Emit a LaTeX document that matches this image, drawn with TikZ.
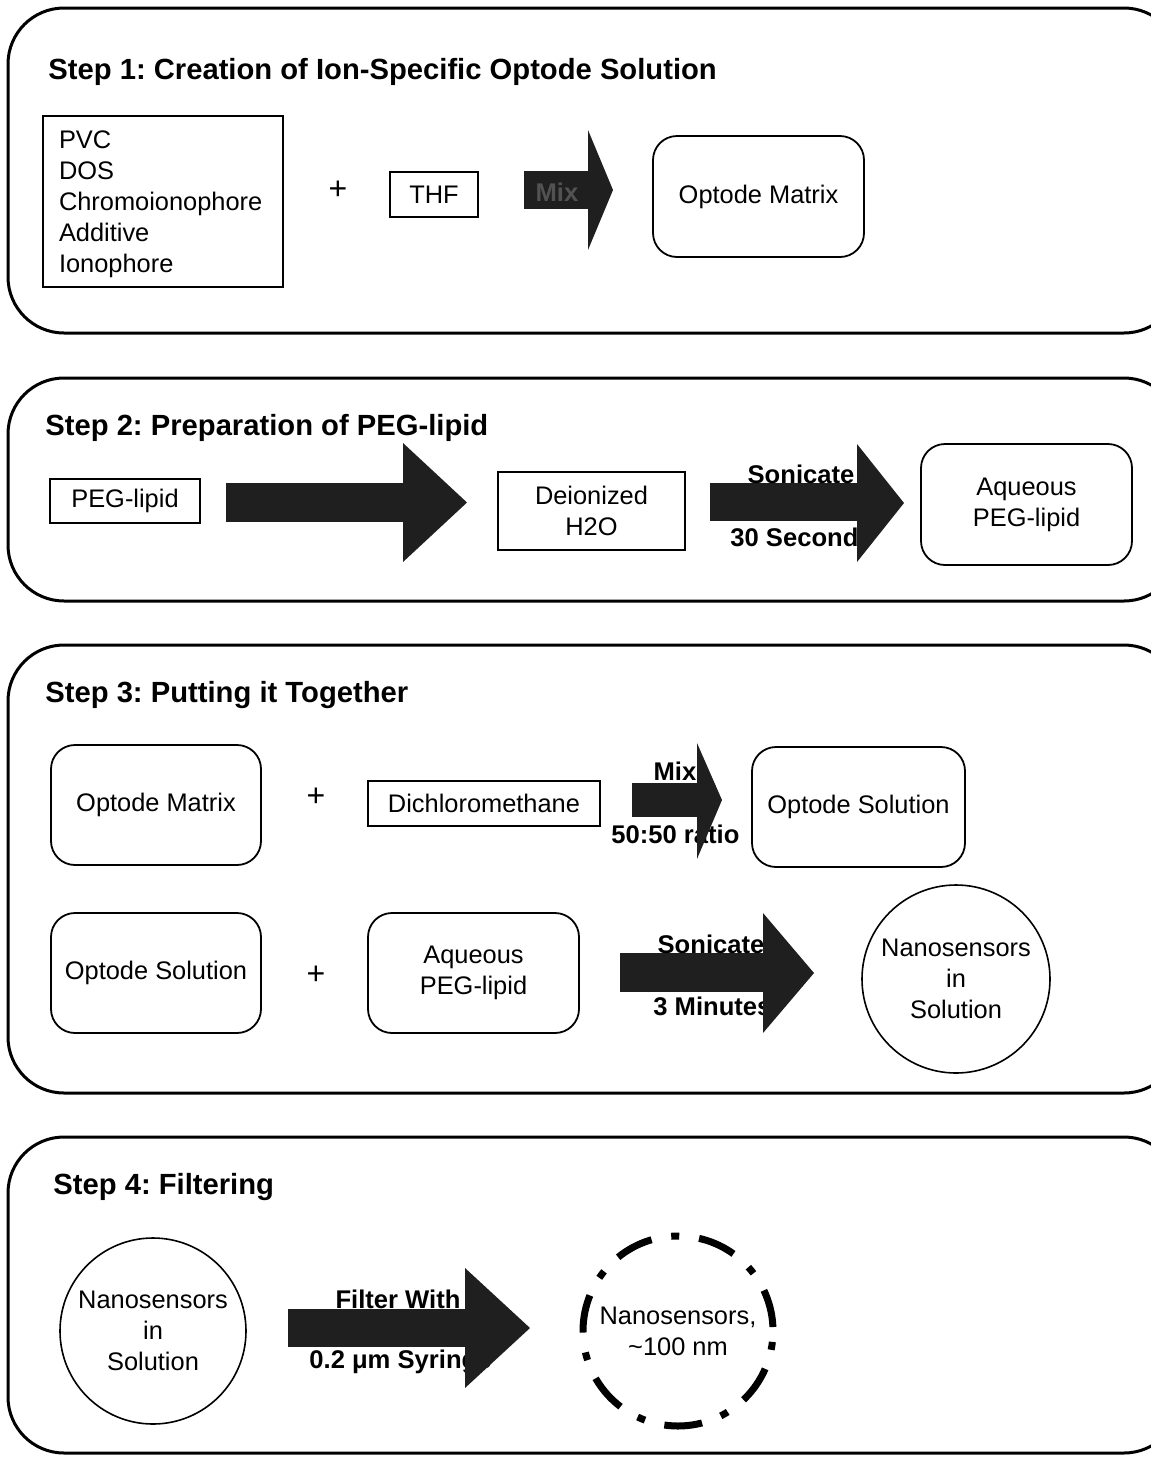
\documentclass[tikz,border=0pt]{standalone}
\usepackage{fontspec}
\setmainfont{Liberation Sans}
\frenchspacing
\newcommand\fsz{\fontsize{12.7}{15.5}\selectfont}
\newcommand\ftz{\fontsize{14.6}{17}\selectfont\bfseries}
\newcommand\flz{\fontsize{12.8}{15}\selectfont\bfseries}
\begin{document}
\begin{tikzpicture}[x=0.5pt,y=-0.5pt,
  panel/.style={draw=black,line width=1.5pt,rounded corners=28pt},
  sq/.style={draw=black,line width=0.8pt,inner sep=0pt,align=center,font=\fsz},
  rbox/.style={draw=black,line width=0.9pt,rounded corners=12pt,inner sep=0pt,align=center,font=\fsz},
  circ/.style={circle,draw=black,line width=0.8pt,inner sep=0pt,align=center,font=\fsz},
  ttl/.style={anchor=west,inner sep=0pt,font=\ftz},
  lab/.style={inner sep=0pt,font=\flz},
  arr/.style={fill=black!88,draw=none},
  plus/.style={inner sep=0pt,font=\fontsize{16}{18}\selectfont}]
\path[use as bounding box] (0,0) rectangle (1151,1457);
\clip (0,0) rectangle (1151,1457);
\fill[white] (0,0) rectangle (1151,1457);

% ---------- panels
\draw[panel] (8,8) rectangle (1180,333);
\draw[panel] (8,378) rectangle (1180,601);
\draw[panel] (8,645) rectangle (1180,1093);
\draw[panel] (8,1137) rectangle (1180,1453);

% ---------- Step 1
\node[ttl] (t1) at (48,72) {Step 1: Creation of Ion-Specific Optode Solution};
\draw[line width=0.8pt] (43,116) rectangle (283,287);
\node[inner sep=0pt,text width=104pt,align=left,font=\fsz] (ingr) at (163,204)
  {PVC\\DOS\\Chromoionophore\\Additive\\Ionophore};
\node[plus] (p1) at (338,190) {+};
\node[sq,minimum width=44pt,minimum height=22.5pt] (thf) at (434,194.5) {THF};
\fill[arr] (524,171) rectangle (590,209);
\node[lab,text=black!68] (mix1) at (557,192) {Mix};
\fill[arr] (588,130) -- (613,190) -- (588,250) -- cycle;
\node[rbox,minimum width=105.5pt,minimum height=60.5pt] (om1) at (758.5,196.5) {Optode Matrix};

% ---------- Step 2
\node[ttl] (t2) at (45,428) {Step 2: Preparation of PEG-lipid};
\node[sq,minimum width=75pt,minimum height=22pt] (peg) at (125,501) {PEG-lipid};
\fill[arr] (226,483) rectangle (404,522);
\fill[arr] (403,443) -- (467,502.5) -- (403,562) -- cycle;
\node[sq,minimum width=93.5pt,minimum height=39pt] (h2o) at (591.5,511) {Deionized\\H2O};
\fill[arr] (710,483) rectangle (858,521);
\node[lab] (son1) at (801,474) {Sonicate};
\node[lab,anchor=west] (sec) at (730,537) {30 Seconds};
\fill[arr] (857,444) -- (904,503) -- (857,562) -- cycle;
\node[rbox,minimum width=105.5pt,minimum height=60.5pt] (apl1) at (1026.5,504.5) {Aqueous\\PEG-lipid};

% ---------- Step 3
\node[ttl] (t3) at (45,695) {Step 3: Putting it Together};
\node[rbox,minimum width=105pt,minimum height=60pt] (om2) at (156,805) {Optode Matrix};
\node[plus] (p2) at (316,797) {+};
\node[sq,minimum width=116pt,minimum height=22.5pt] (dcm) at (484,803.5) {Dichloromethane};
\fill[arr] (632,783) rectangle (698,817);
\node[lab] (mix2) at (675,771) {Mix};
\node[lab,anchor=west] (ratio) at (611,834) {50:50 ratio};
\fill[arr] (697,743) -- (722,800) -- (697,859) -- cycle;
\node[rbox,minimum width=106.5pt,minimum height=60pt] (os1) at (858.5,807) {Optode Solution};

\node[rbox,minimum width=105pt,minimum height=60pt] (os2) at (156,973) {Optode Solution};
\node[plus] (p3) at (316,975) {+};
\node[rbox,minimum width=105.5pt,minimum height=60pt] (apl2) at (473.5,973) {Aqueous\\PEG-lipid};
\fill[arr] (620,953) rectangle (764,992);
\node[lab] (son2) at (711,944) {Sonicate};
\node[lab,anchor=west] (min) at (653,1006) {3 Minutes};
\fill[arr] (763,913) -- (814,973) -- (763,1033) -- cycle;
\node[circ,minimum size=94pt] (nis1) at (956,979) {Nanosensors\\in\\Solution};

% ---------- Step 4
\node[ttl] (t4) at (53,1187) {Step 4: Filtering};
\node[circ,minimum size=93pt] (nis2) at (153,1331) {Nanosensors\\in\\Solution};
\fill[arr] (288,1309) rectangle (466,1347);
\node[lab] (filt) at (398,1299) {Filter With};
\node[lab,anchor=west] (syr) at (309,1362) {0.2 μm Syringe};
\fill[arr] (465,1268) -- (530,1328) -- (465,1388) -- cycle;
\node[circle,draw=black,line width=3.5pt,dash pattern=on 19pt off 10pt on 4pt off 10pt,
  dash phase=-2pt,minimum size=95pt,inner sep=0pt,align=center,font=\fsz] (nano) at (678,1331)
  {Nanosensors,\\\textasciitilde100 nm};
\end{tikzpicture}
\end{document}
